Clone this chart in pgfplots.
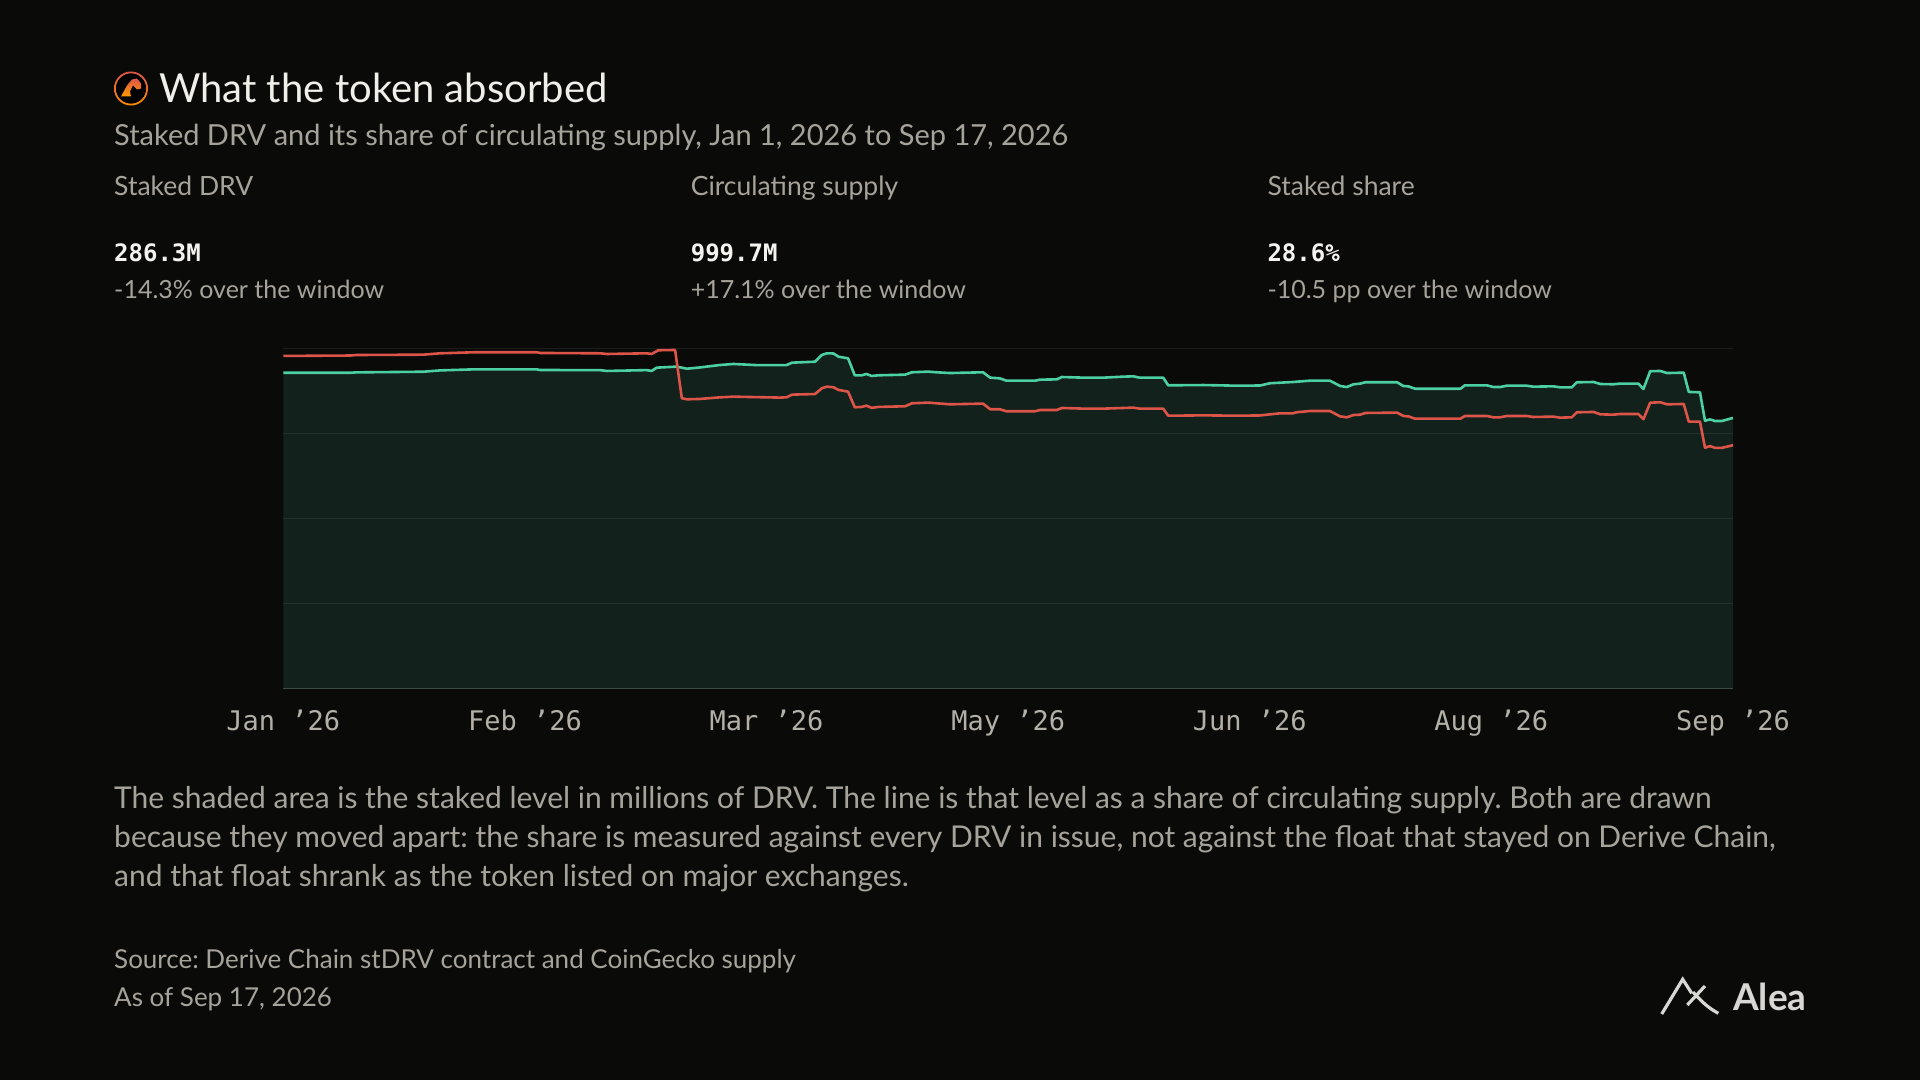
\documentclass[border=0pt]{standalone}
\usepackage{fontspec}
\setmainfont{Lato}
\setmonofont{DejaVu Sans Mono}
\usepackage{pgfplots}
\pgfplotsset{compat=1.18}
\usepackage{pgfplotstable}
\frenchspacing

\definecolor{bg}{HTML}{0A0A09}
\definecolor{titlec}{HTML}{F0EFEA}
\definecolor{subc}{HTML}{A6A39B}
\definecolor{tickc}{HTML}{B3B0A8}
\definecolor{valc}{HTML}{F4F3EF}
\definecolor{tealc}{HTML}{4CCFA3}
\definecolor{redc}{HTML}{DC5548}
\definecolor{basec}{HTML}{3C4B46}

% staked DRV, millions (day index from Jan 1, 2026)
\pgfplotstableread{
d v
0 334.1
12 334.1
13 334.5
25 335.2
27.4 336.3
28 336.6
34 337.7
45.3 337.7
45.9 337.0
56.6 336.9
57.8 336.0
64.9 336.9
65.8 336.0
66.7 339.5
70.3 340.6
72.1 338.4
74.4 339.7
78 342.3
80.4 343.4
84.6 342.2
89.9 342.2
90.9 344.8
95.0 345.8
96.2 352.9
97.1 354.7
98.3 354.5
99.2 351.1
100.9 349.4
102.1 331.4
103.3 331.4
104.2 332.8
105.1 330.7
106.3 331.4
111.1 332.1
112.3 334.6
115.2 335.3
116.7 334.6
119.1 333.8
125.0 334.6
126.3 328.9
128.0 328.2
129.2 325.7
134.3 325.7
135.2 326.8
138.2 327.1
139.1 329.6
143.0 328.9
146.5 328.9
150.1 330.0
151.9 330.3
153.0 328.9
157.2 328.9
158.1 320.8
164.4 321.1
170.3 320.4
174.5 320.6
176.3 323.0
178.1 323.6
180.4 324.3
181.0 324.6
183.4 325.7
187.0 325.7
188.8 320.1
190.0 319.0
191.2 321.9
192.4 322.6
193.3 324.0
199.0 324.0
200.1 320.1
201.0 319.7
202.2 317.2
210.3 317.2
211.1 320.8
215.0 320.8
216.2 319.0
217.4 319.0
218.6 320.4
222.1 320.4
223.3 319.4
226.9 319.7
228.1 318.7
230.2 318.7
231.1 324.0
234.1 324.3
235.3 322.2
237.6 321.9
238.8 322.6
242.1 322.6
243.0 316.9
244.2 335.7
246.0 336.0
247.2 333.8
250.2 334.2
251.1 313.8
253.1 313.4
254.0 283.3
254.9 284.7
255.8 283.0
257.0 283.0
259 286.3
}\staked

% staked share of circulating supply, percent
\pgfplotstableread{
d v
0 39.10
12 39.15
13 39.21
25 39.25
28 39.41
34 39.53
45.3 39.53
45.9 39.45
56.6 39.41
57.8 39.33
64.9 39.41
65.8 39.33
67.0 39.77
70.0 39.80
71.2 34.12
72.1 34.00
74.4 34.04
78.0 34.23
80.4 34.31
88.7 34.20
89.9 34.23
90.9 34.55
95.0 34.62
96.2 35.29
97.1 35.49
98.3 35.41
99.2 35.10
100.9 34.90
102.1 33.06
103.3 33.10
104.2 33.25
105.1 32.99
106.3 33.10
111.1 33.18
112.3 33.53
115.2 33.61
116.7 33.53
119.1 33.41
125.0 33.49
126.3 32.83
128.0 32.83
129.2 32.59
134.3 32.59
135.2 32.74
138.2 32.74
139.1 32.98
143.0 32.90
146.5 32.90
150.1 32.98
151.9 33.02
153.0 32.90
157.2 32.90
158.1 32.07
164.4 32.11
170.3 32.07
174.5 32.10
176.3 32.23
178.1 32.35
180.4 32.35
181.0 32.47
183.4 32.62
187.0 32.62
188.8 31.99
190.0 31.88
191.2 32.15
192.4 32.19
193.3 32.39
199.0 32.43
200.1 32.04
201.0 31.99
202.2 31.72
210.3 31.72
211.1 32.04
215.0 32.04
216.2 31.88
217.4 31.88
218.6 32.04
222.1 32.04
223.3 31.92
226.9 31.96
228.1 31.84
230.2 31.88
231.1 32.47
234.1 32.51
235.3 32.23
237.6 32.19
238.8 32.27
242.1 32.27
243.0 31.65
244.2 33.60
246.0 33.65
247.2 33.41
250.2 33.45
251.1 31.37
253.1 31.37
254.0 28.30
254.9 28.50
255.8 28.28
257.0 28.28
259 28.60
}\share

\begin{document}
\begin{tikzpicture}[x=1pt,y=1pt]
\fill[bg] (0,0) rectangle (1920,1080);

% icon
\begin{scope}[shift={(131,991.5)}]
\shade[top color=redc, bottom color=orange!90!yellow, even odd rule] (0,0) circle (17) (0,0) circle (15);
\fill[black] (0,0) circle (15);
\shade[top color=redc, bottom color=orange!80!yellow] (-10,-8) -- (-4,3) -- (1,9) -- (6,10) -- (10,5) -- (10,0) -- (6,-1) -- (2,3) -- (-1,-3) -- (0,-8) -- cycle;
\end{scope}

% title and subtitle
\node[anchor=base west, inner sep=0, text=titlec, font=\fontsize{40}{46}\selectfont] at (159,977.3) {What the token absorbed};
\node[anchor=base west, inner sep=0, text=subc, font=\fontsize{29}{34}\selectfont] at (114,934) {Staked DRV and its share of circulating supply, Jan 1, 2026 to Sep 17, 2026};

% KPIs
\foreach \x/\lab/\val/\del in {114/Staked DRV/286.3M/{-14.3\% over the window},
                                690.6/Circulating supply/999.7M/{+17.1\% over the window},
                                1267.3/Staked share/28.6\%/{-10.5 pp over the window}}{
  \node[anchor=base west, inner sep=0, text=subc, font=\fontsize{26.5}{30}\selectfont] at (\x,884) {\lab};
  \node[anchor=base west, inner sep=0, text=valc, font=\ttfamily\bfseries\fontsize{24}{28}\selectfont] at (\x,818.5) {\val};
  \node[anchor=base west, inner sep=0, text=subc, font=\fontsize{25}{30}\selectfont] at (\x,781) {\del};
}

% chart
\begin{axis}[at={(283.3pt,391.7pt)}, anchor=south west, scale only axis,
  width=1449.7pt, height=340pt,
  xmin=0, xmax=259, ymin=0, ymax=360,
  axis line style={draw=none},
  major tick length=0pt,
  xtick={0,43.17,86.33,129.5,172.67,215.83,259},
  xticklabels={Jan ’26,Feb ’26,Mar ’26,May ’26,Jun ’26,Aug ’26,Sep ’26},
  xticklabel style={anchor=base, yshift=-42.5pt, text=tickc, font=\ttfamily\fontsize{27}{30}\selectfont},
  ytick={90,180,270,360}, yticklabels={},
  ymajorgrids, grid style={white, opacity=0.08, line width=1.2pt},
  clip=false]
\addplot[draw=none, fill=tealc, fill opacity=0.12] table[x=d,y=v]{\staked} \closedcycle;
\draw[basec, line width=1.5pt] (axis cs:0,0) -- (axis cs:259,0);
\addplot[tealc, line width=2.6pt, line join=round] table[x=d,y=v]{\staked};
\end{axis}
\begin{axis}[at={(283.3pt,391.7pt)}, anchor=south west, scale only axis,
  width=1449.7pt, height=340pt,
  xmin=0, xmax=259, ymin=0, ymax=40, hide axis, clip=false]
\addplot[redc, line width=2.6pt, line join=round] table[x=d,y=v]{\share};
\end{axis}

% explanatory text
\begin{scope}[every node/.style={anchor=base west, inner sep=0, text=subc, font=\fontsize{30}{36}\selectfont}]
\node at (114,272) {The shaded area is the staked level in millions of DRV. The line is that level as a share of circulating supply. Both are drawn};
\node at (114,233) {because they moved apart: the share is measured against every DRV in issue, not against the float that stayed on Derive Chain,};
\node at (114,193.5) {and that float shrank as the token listed on major exchanges.};
\end{scope}

% source
\node[anchor=base west, inner sep=0, text=subc, font=\fontsize{26}{30}\selectfont] at (114,111.4) {Source: Derive Chain stDRV contract and CoinGecko supply};
\node[anchor=base west, inner sep=0, text=subc, font=\fontsize{26}{30}\selectfont] at (114,73.4) {As of Sep 17, 2026};

% Alea logo
\begin{scope}[line width=3.2pt, line cap=butt, line join=miter]
\draw[titlec!90!black] (1661.7,66) -- (1682.7,100.7) -- (1691.7,86.7);
\draw[titlec!90!black] (1687.3,75) -- (1705,94);
\draw[titlec!90!black] (1693,88) .. controls (1700,80) and (1708,72) .. (1718.3,66.7);
\end{scope}
\node[anchor=base west, inner sep=0, text=titlec!90!black, font=\bfseries\fontsize{37}{42}\selectfont] at (1733,70) {Alea};
\end{tikzpicture}
\end{document}
